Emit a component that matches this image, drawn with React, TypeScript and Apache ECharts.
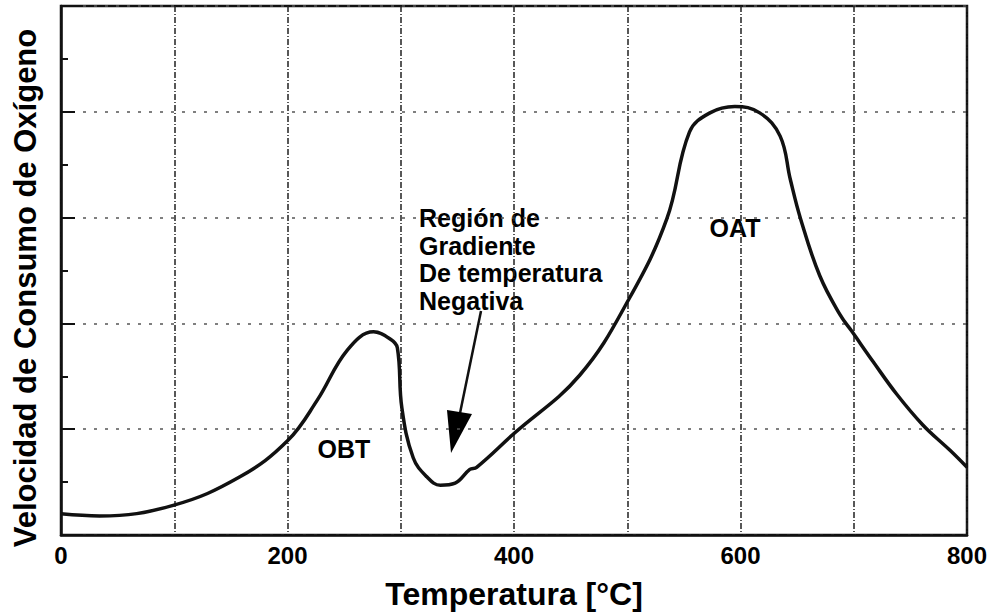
import React, { useEffect, useRef } from "react";
import * as echarts from "echarts";

const tempX: number[] = [0, 34, 99, 158, 200, 226, 253, 276, 291, 297, 301, 311, 323, 335, 348, 361, 367, 399, 458, 502, 535, 555, 573, 595, 617, 635, 644, 653, 670, 688, 698, 717, 738, 761, 785, 800];
const rateY: number[] = [0.2, 0.18, 0.28, 0.55, 0.89, 1.27, 1.75, 1.92, 1.85, 1.77, 1.2, 0.73, 0.55, 0.47, 0.49, 0.62, 0.64, 0.95, 1.51, 2.24, 2.99, 3.81, 3.99, 4.05, 3.99, 3.77, 3.36, 2.99, 2.45, 2.08, 1.93, 1.64, 1.33, 1.04, 0.8, 0.64];
const xTickLabels: number[] = [0, 200, 400, 600, 800];
const regionLines: string[] = ["Región de", "Gradiente", "De temperatura", "Negativa"];

const FONT = "'Liberation Sans', Arial, Helvetica, sans-serif";

export default function App() {
  const ref = useRef<HTMLDivElement>(null);
  useEffect(() => {
    if (!ref.current) return;
    const chart = echarts.init(ref.current, undefined, { renderer: "svg" });
    const data = tempX.map((x, i) => [x, rateY[i]]);
    chart.setOption({
      animation: false,
      backgroundColor: "#ffffff",
      grid: {
        left: 61,
        right: 26,
        top: 6,
        bottom: 77,
        show: true,
        borderColor: "#111",
        borderWidth: 2.5,
        backgroundColor: "transparent",
      },
      xAxis: {
        type: "value",
        min: 0,
        max: 800,
        interval: 100,
        name: "Temperatura [°C]",
        nameLocation: "middle",
        nameGap: 43,
        nameTextStyle: { fontFamily: FONT, fontWeight: "bold", fontSize: 32, color: "#000" },
        axisLine: { show: true, lineStyle: { color: "#111", width: 2.5 } },
        axisTick: { show: false },
        axisLabel: {
          margin: 8,
          fontFamily: FONT,
          fontWeight: "bold",
          fontSize: 24,
          color: "#000",
          formatter: (v: number) => (xTickLabels.includes(v) ? String(v) : ""),
        },
        splitLine: {
          show: true,
          lineStyle: { color: "#222", width: 1.5, type: [6, 2, 1, 2] },
        },
      },
      yAxis: {
        type: "value",
        min: 0,
        max: 5,
        interval: 1,
        axisLine: { show: true, lineStyle: { color: "#111", width: 2.5 } },
        axisTick: { show: true, inside: true, length: 14, lineStyle: { color: "#111", width: 2 } },
        minorTick: { show: true, splitNumber: 2, length: 7, lineStyle: { color: "#111", width: 2 } },
        axisLabel: { show: false },
        splitLine: {
          show: true,
          lineStyle: { color: "#555", width: 1.5, type: [3, 8] },
        },
      },
      series: [
        {
          type: "line",
          data,
          smooth: 0.4,
          showSymbol: false,
          symbol: "none",
          lineStyle: { color: "#111", width: 3.5 },
        },
      ],
      graphic: [
        {
          type: "text",
          x: 25,
          y: 288,
          rotation: Math.PI / 2,
          style: {
            text: "Velocidad de Consumo de Oxígeno",
            font: `bold 31px ${FONT}`,
            fill: "#000",
            align: "center",
            verticalAlign: "middle",
          },
        },
        ...regionLines.map((t, i) => ({
          type: "text",
          x: 419,
          y: 218 + i * 27.7,
          style: {
            text: t,
            font: `bold 25px ${FONT}`,
            fill: "#000",
            align: "left",
            verticalAlign: "middle",
          },
        })),
        {
          type: "text",
          x: 344,
          y: 449,
          style: { text: "OBT", font: `bold 25px ${FONT}`, fill: "#000", align: "center", verticalAlign: "middle" },
        },
        {
          type: "text",
          x: 735,
          y: 228,
          style: { text: "OAT", font: `bold 25px ${FONT}`, fill: "#000", align: "center", verticalAlign: "middle" },
        },
        {
          type: "line",
          shape: { x1: 481, y1: 311, x2: 459, y2: 418 },
          style: { stroke: "#111", lineWidth: 2.5 },
        },
        {
          type: "polygon",
          shape: { points: [[447, 410], [472, 414], [451, 453]] },
          style: { fill: "#000" },
        },
      ],
    });
    return () => chart.dispose();
  }, []);
  return <div ref={ref} style={{ width: 993, height: 615, position: "absolute", left: 0, top: 0 }} />;
}
